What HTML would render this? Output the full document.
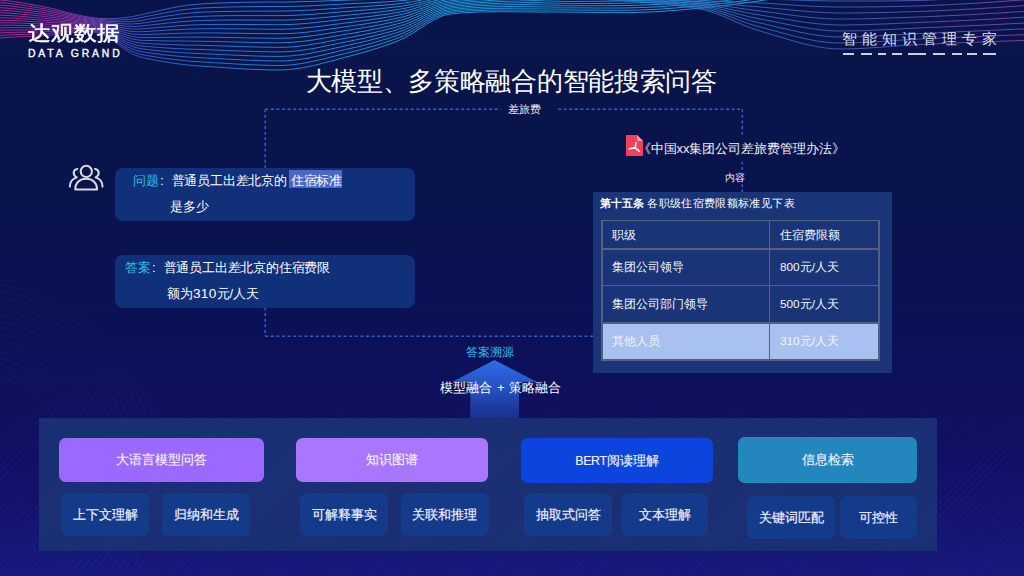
<!DOCTYPE html>
<html><head><meta charset="utf-8">
<style>
*{margin:0;padding:0;box-sizing:border-box}
html,body{width:1024px;height:576px;overflow:hidden}
body{position:relative;font-family:"Liberation Sans",sans-serif;color:#fff;
background:linear-gradient(180deg,#09154a 0%,#09134c 35%,#0c1158 60%,#110f64 80%,#16187a 100%);}
.a{position:absolute;white-space:nowrap;line-height:1}
.box{position:absolute;background:#11307a;border-radius:8px}
.btn{position:absolute;border-radius:6.5px;display:flex;align-items:center;justify-content:center;font-size:13px;color:#f2f2ff;-webkit-text-stroke:0.15px #f2f2ff}
.sub{position:absolute;border-radius:6.5px;background:#143a8a;display:flex;align-items:center;justify-content:center;font-size:13px;color:#eef;-webkit-text-stroke:0.2px #eef}
.dh{position:absolute;height:0;border-top:1.5px dashed #3567d0}
.dv{position:absolute;width:0;border-left:1.5px dashed #3567d0}
table{border-collapse:collapse}
</style></head><body>
<svg class="a" style="left:0;top:0" width="1024" height="576" viewBox="0 0 1024 576" id="bgsvg">
<defs><linearGradient id="wg" gradientUnits="userSpaceOnUse" x1="0" y1="0" x2="1024" y2="0">
<stop offset="0" stop-color="#a82a96"/><stop offset="0.07" stop-color="#8a30a4"/><stop offset="0.13" stop-color="#3c58c0"/>
<stop offset="0.22" stop-color="#2a7ad4"/><stop offset="0.4" stop-color="#1c98dc"/><stop offset="0.7" stop-color="#1e98da"/></linearGradient>
<linearGradient id="wr" gradientUnits="userSpaceOnUse" x1="600" y1="0" x2="1024" y2="0">
<stop offset="0" stop-color="#2084c8"/><stop offset="0.5" stop-color="#3a68c0"/><stop offset="1" stop-color="#8a46b2"/></linearGradient></defs>
<g fill="none" stroke="url(#wg)" stroke-width="1" opacity="0.95">
<path d="M-20 -2.0 -12 -1.2 -4 -0.4 4 0.4 12 1.4 20 2.6 28 3.9 36 5.3 44 6.8 52 8.5 60 10.5 68 12.6 76 14.5 84 16.3 92 17.6 100 18.5 108 18.7 116 18.5 124 17.8 132 16.6 140 15.0 148 13.2 156 11.4 164 9.6 172 7.9 180 6.4 188 5.2 196 4.3 204 3.8 212 3.3 220 3.0 228 2.7 236 2.5 244 2.3 252 2.2 260 2.1 268 2.0 276 2.0 284 2.0 292 1.9 300 1.7 308 1.5 316 1.3 324 1.0 332 0.7 340 0.4 348 0.1 356 -0.2 364 -0.4 372 -0.7 380 -1.0 388 -1.3 396 -1.8 404 -2.3 412 -3.1 420 -4.1 428 -5.1 436 -6.2 444 -7.3 452 -8.2 460 -9.1 468 -10.0 476 -10.9 484 -11.7 492 -12.6 500 -13.4 508 -14.3 516 -15.1 524 -15.8 532 -16.5 540 -17.2 548 -17.8 556 -18.4 564 -19.0 572 -19.6 580 -20.1 588 -20.6 596 -21.1 604 -21.6 612 -22.1 620 -22.5 628 -22.9 636 -23.3 644 -23.7 652 -24.1 660 -24.5 668 -25.1 676 -25.7 684 -26.4 692 -27.1 700 -27.9 708 -28.7 716 -29.6 724 -30.4 732 -31.4 740 -32.4 748 -33.5 756 -34.6 764 -35.9 772 -37.1 780 -38.5 788 -39.8 796 -41.3 804 -42.7 812 -44.3"/>
<path d="M-20 0.8 -12 1.5 -4 2.2 4 2.9 12 3.8 20 4.9 28 6.1 36 7.4 44 8.7 52 10.3 60 12.1 68 13.9 76 15.7 84 17.3 92 18.6 100 19.4 108 20.0 116 20.1 124 19.8 132 19.1 140 17.8 148 16.2 156 14.6 164 13.1 172 11.6 180 10.3 188 9.2 196 8.4 204 7.9 212 7.6 220 7.3 228 7.0 236 6.9 244 6.7 252 6.6 260 6.6 268 6.5 276 6.5 284 6.5 292 6.4 300 6.2 308 5.9 316 5.5 324 5.1 332 4.7 340 4.2 348 3.8 356 3.4 364 3.1 372 2.7 380 2.2 388 1.7 396 1.1 404 0.4 412 -0.6 420 -1.9 428 -3.2 436 -4.6 444 -5.8 452 -6.8 460 -7.6 468 -8.5 476 -9.3 484 -10.2 492 -11.0 500 -11.8 508 -12.5 516 -13.3 524 -14.0 532 -14.6 540 -15.3 548 -15.9 556 -16.4 564 -16.9 572 -17.5 580 -17.9 588 -18.4 596 -18.9 604 -19.3 612 -19.7 620 -20.2 628 -20.6 636 -20.9 644 -21.3 652 -21.7 660 -22.1 668 -22.7 676 -23.3 684 -24.0 692 -24.7 700 -25.5 708 -26.3 716 -27.2 724 -28.0 732 -29.0 740 -30.0 748 -31.1 756 -32.2 764 -33.5 772 -34.7 780 -36.1 788 -37.4 796 -38.9 804 -40.3 812 -41.9"/>
<path d="M-20 3.6 -12 4.2 -4 4.8 4 5.4 12 6.2 20 7.2 28 8.3 36 9.4 44 10.6 52 12.0 60 13.6 68 15.2 76 16.8 84 18.3 92 19.5 100 20.4 108 21.2 116 21.7 124 21.9 132 21.5 140 20.6 148 19.3 156 17.9 164 16.5 172 15.3 180 14.1 188 13.2 196 12.5 204 12.1 212 11.8 220 11.6 228 11.4 236 11.3 244 11.2 252 11.1 260 11.1 268 11.1 276 11.1 284 11.0 292 10.9 300 10.6 308 10.2 316 9.8 324 9.2 332 8.7 340 8.1 348 7.6 356 7.1 364 6.6 372 6.0 380 5.5 388 4.8 396 4.0 404 3.1 412 1.8 420 0.3 428 -1.3 436 -2.9 444 -4.3 452 -5.3 460 -6.1 468 -7.0 476 -7.8 484 -8.6 492 -9.3 500 -10.1 508 -10.8 516 -11.5 524 -12.1 532 -12.7 540 -13.3 548 -13.9 556 -14.4 564 -14.9 572 -15.3 580 -15.8 588 -16.2 596 -16.6 604 -17.0 612 -17.4 620 -17.8 628 -18.2 636 -18.6 644 -18.9 652 -19.3 660 -19.7 668 -20.3 676 -20.9 684 -21.6 692 -22.3 700 -23.1 708 -23.9 716 -24.8 724 -25.6 732 -26.6 740 -27.6 748 -28.7 756 -29.8 764 -31.1 772 -32.3 780 -33.7 788 -35.0 796 -36.5 804 -37.9 812 -39.5"/>
<path d="M-20 6.4 -12 6.9 -4 7.4 4 7.9 12 8.6 20 9.5 28 10.4 36 11.5 44 12.5 52 13.8 60 15.2 68 16.6 76 18.0 84 19.3 92 20.4 100 21.4 108 22.4 116 23.3 124 23.9 132 24.0 140 23.4 148 22.3 156 21.2 164 20.0 172 18.9 180 18.0 188 17.2 196 16.6 204 16.3 212 16.0 220 15.8 228 15.7 236 15.6 244 15.6 252 15.6 260 15.6 268 15.6 276 15.6 284 15.6 292 15.4 300 15.0 308 14.6 316 14.0 324 13.4 332 12.7 340 12.0 348 11.4 356 10.7 364 10.1 372 9.4 380 8.7 388 7.8 396 6.9 404 5.8 412 4.3 420 2.5 428 0.5 436 -1.3 444 -2.8 452 -3.8 460 -4.7 468 -5.5 476 -6.3 484 -7.0 492 -7.7 500 -8.4 508 -9.1 516 -9.7 524 -10.3 532 -10.8 540 -11.4 548 -11.9 556 -12.4 564 -12.8 572 -13.2 580 -13.6 588 -14.0 596 -14.4 604 -14.8 612 -15.1 620 -15.5 628 -15.8 636 -16.2 644 -16.5 652 -16.9 660 -17.3 668 -17.9 676 -18.5 684 -19.2 692 -19.9 700 -20.7 708 -21.5 716 -22.4 724 -23.2 732 -24.2 740 -25.2 748 -26.3 756 -27.4 764 -28.7 772 -29.9 780 -31.3 788 -32.6 796 -34.1 804 -35.5 812 -37.1"/>
<path d="M-20 9.2 -12 9.6 -4 9.9 4 10.4 12 11.0 20 11.7 28 12.6 36 13.5 44 14.5 52 15.5 60 16.7 68 17.9 76 19.2 84 20.3 92 21.4 100 22.4 108 23.7 116 25.0 124 26.0 132 26.5 140 26.2 148 25.3 156 24.4 164 23.5 172 22.6 180 21.8 188 21.2 196 20.7 204 20.4 212 20.3 220 20.1 228 20.1 236 20.0 244 20.0 252 20.1 260 20.1 268 20.1 276 20.1 284 20.1 292 19.9 300 19.5 308 18.9 316 18.2 324 17.5 332 16.7 340 15.9 348 15.1 356 14.4 364 13.6 372 12.8 380 11.9 388 10.9 396 9.8 404 8.5 412 6.7 420 4.6 428 2.4 436 0.4 444 -1.3 452 -2.4 460 -3.2 468 -4.0 476 -4.7 484 -5.4 492 -6.1 500 -6.7 508 -7.3 516 -7.9 524 -8.4 532 -8.9 540 -9.4 548 -9.9 556 -10.3 564 -10.7 572 -11.1 580 -11.5 588 -11.8 596 -12.2 604 -12.5 612 -12.8 620 -13.1 628 -13.5 636 -13.8 644 -14.1 652 -14.5 660 -14.9 668 -15.5 676 -16.1 684 -16.8 692 -17.5 700 -18.3 708 -19.1 716 -20.0 724 -20.8 732 -21.8 740 -22.8 748 -23.9 756 -25.0 764 -26.3 772 -27.5 780 -28.9 788 -30.2 796 -31.7 804 -33.1 812 -34.7"/>
<path d="M-20 12.0 -12 12.3 -4 12.5 4 12.8 12 13.3 20 14.0 28 14.8 36 15.6 44 16.4 52 17.3 60 18.3 68 19.3 76 20.3 84 21.3 92 22.3 100 23.4 108 24.9 116 26.6 124 28.1 132 29.0 140 29.0 148 28.4 156 27.7 164 27.0 172 26.3 180 25.7 188 25.1 196 24.8 204 24.6 212 24.5 220 24.4 228 24.4 236 24.4 244 24.5 252 24.5 260 24.6 268 24.6 276 24.7 284 24.6 292 24.4 300 23.9 308 23.3 316 22.5 324 21.6 332 20.7 340 19.8 348 18.9 356 18.0 364 17.1 372 16.2 380 15.1 388 14.0 396 12.7 404 11.2 412 9.2 420 6.8 428 4.3 436 2.1 444 0.2 452 -0.9 460 -1.7 468 -2.5 476 -3.2 484 -3.9 492 -4.5 500 -5.1 508 -5.6 516 -6.1 524 -6.6 532 -7.0 540 -7.5 548 -7.9 556 -8.3 564 -8.7 572 -9.0 580 -9.3 588 -9.6 596 -9.9 604 -10.2 612 -10.5 620 -10.8 628 -11.1 636 -11.4 644 -11.7 652 -12.1 660 -12.5 668 -13.1 676 -13.7 684 -14.4 692 -15.1 700 -15.9 708 -16.7 716 -17.6 724 -18.4 732 -19.4 740 -20.4 748 -21.5 756 -22.6 764 -23.9 772 -25.1 780 -26.5 788 -27.8 796 -29.3 804 -30.7 812 -32.3"/>
<path d="M-20 14.8 -12 15.0 -4 15.1 4 15.3 12 15.7 20 16.3 28 17.0 36 17.7 44 18.3 52 19.1 60 19.8 68 20.6 76 21.5 84 22.4 92 23.3 100 24.4 108 26.1 116 28.2 124 30.1 132 31.5 140 31.8 148 31.4 156 30.9 164 30.4 172 29.9 180 29.5 188 29.1 196 28.9 204 28.8 212 28.7 220 28.7 228 28.8 236 28.8 244 28.9 252 29.0 260 29.1 268 29.2 276 29.2 284 29.2 292 28.9 300 28.3 308 27.6 316 26.7 324 25.8 332 24.7 340 23.7 348 22.6 356 21.7 364 20.6 372 19.5 380 18.3 388 17.0 396 15.6 404 13.9 412 11.6 420 9.0 428 6.2 436 3.7 444 1.7 452 0.6 460 -0.2 468 -1.0 476 -1.7 484 -2.3 492 -2.9 500 -3.4 508 -3.9 516 -4.3 524 -4.7 532 -5.1 540 -5.5 548 -5.9 556 -6.3 564 -6.6 572 -6.9 580 -7.2 588 -7.4 596 -7.7 604 -7.9 612 -8.2 620 -8.4 628 -8.7 636 -9.0 644 -9.3 652 -9.7 660 -10.1 668 -10.7 676 -11.3 684 -12.0 692 -12.7 700 -13.5 708 -14.3 716 -15.2 724 -16.0 732 -17.0 740 -18.0 748 -19.1 756 -20.2 764 -21.5 772 -22.7 780 -24.1 788 -25.4 796 -26.9 804 -28.3 812 -29.9"/>
<path d="M-20 17.6 -12 17.7 -4 17.7 4 17.8 12 18.1 20 18.6 28 19.1 36 19.7 44 20.3 52 20.8 60 21.4 68 22.0 76 22.6 84 23.4 92 24.2 100 25.3 108 27.4 116 29.8 124 32.2 132 34.0 140 34.6 148 34.4 156 34.2 164 33.9 172 33.6 180 33.3 188 33.1 196 33.0 204 32.9 212 32.9 220 33.0 228 33.1 236 33.2 244 33.4 252 33.5 260 33.6 268 33.7 276 33.7 284 33.7 292 33.4 300 32.8 308 32.0 316 31.0 324 29.9 332 28.7 340 27.5 348 26.4 356 25.3 364 24.1 372 22.9 380 21.5 388 20.1 396 18.5 404 16.6 412 14.1 420 11.1 428 8.1 436 5.4 444 3.2 452 2.1 460 1.2 468 0.5 476 -0.1 484 -0.7 492 -1.2 500 -1.7 508 -2.1 516 -2.5 524 -2.9 532 -3.2 540 -3.6 548 -3.9 556 -4.2 564 -4.5 572 -4.8 580 -5.0 588 -5.2 596 -5.5 604 -5.7 612 -5.9 620 -6.1 628 -6.4 636 -6.6 644 -6.9 652 -7.3 660 -7.7 668 -8.3 676 -8.9 684 -9.6 692 -10.3 700 -11.1 708 -11.9 716 -12.8 724 -13.6 732 -14.6 740 -15.6 748 -16.7 756 -17.8 764 -19.1 772 -20.3 780 -21.7 788 -23.0 796 -24.5 804 -25.9 812 -27.5"/>
<path d="M-20 20.4 -12 20.3 -4 20.3 4 20.3 12 20.5 20 20.8 28 21.3 36 21.8 44 22.2 52 22.6 60 22.9 68 23.3 76 23.8 84 24.4 92 25.1 100 26.3 108 28.6 116 31.4 124 34.3 132 36.5 140 37.4 148 37.5 156 37.5 164 37.4 172 37.3 180 37.2 188 37.1 196 37.1 204 37.1 212 37.2 220 37.3 228 37.5 236 37.6 244 37.8 252 38.0 260 38.1 268 38.2 276 38.3 284 38.2 292 37.9 300 37.2 308 36.3 316 35.2 324 34.0 332 32.7 340 31.4 348 30.2 356 29.0 364 27.7 372 26.3 380 24.8 388 23.1 396 21.3 404 19.3 412 16.5 420 13.3 428 10.0 436 7.0 444 4.8 452 3.5 460 2.7 468 2.0 476 1.4 484 0.9 492 0.4 500 -0.0 508 -0.4 516 -0.7 524 -1.0 532 -1.3 540 -1.6 548 -1.9 556 -2.2 564 -2.5 572 -2.7 580 -2.9 588 -3.0 596 -3.2 604 -3.4 612 -3.6 620 -3.8 628 -4.0 636 -4.2 644 -4.5 652 -4.9 660 -5.3 668 -5.9 676 -6.5 684 -7.2 692 -7.9 700 -8.7 708 -9.5 716 -10.4 724 -11.2 732 -12.2 740 -13.2 748 -14.3 756 -15.4 764 -16.7 772 -17.9 780 -19.3 788 -20.6 796 -22.1 804 -23.5 812 -25.1"/>
<path d="M-20 23.2 -12 23.0 -4 22.9 4 22.8 12 22.9 20 23.1 28 23.5 36 23.8 44 24.1 52 24.3 60 24.5 68 24.7 76 25.0 84 25.4 92 26.1 100 27.3 108 29.8 116 33.1 124 36.3 132 38.9 140 40.2 148 40.5 156 40.7 164 40.9 172 41.0 180 41.0 188 41.1 196 41.2 204 41.3 212 41.4 220 41.6 228 41.8 236 42.0 244 42.2 252 42.4 260 42.6 268 42.7 276 42.8 284 42.7 292 42.4 300 41.6 308 40.7 316 39.5 324 38.1 332 36.7 340 35.3 348 33.9 356 32.6 364 31.2 372 29.6 380 28.0 388 26.2 396 24.2 404 22.0 412 19.0 420 15.5 428 11.9 436 8.7 444 6.3 452 5.0 460 4.2 468 3.5 476 2.9 484 2.4 492 2.0 500 1.6 508 1.3 516 1.1 524 0.8 532 0.6 540 0.3 548 0.1 556 -0.2 564 -0.4 572 -0.6 580 -0.7 588 -0.9 596 -1.0 604 -1.1 612 -1.3 620 -1.4 628 -1.6 636 -1.9 644 -2.1 652 -2.5 660 -2.9 668 -3.5 676 -4.1 684 -4.8 692 -5.5 700 -6.3 708 -7.1 716 -8.0 724 -8.8 732 -9.8 740 -10.8 748 -11.9 756 -13.0 764 -14.3 772 -15.5 780 -16.9 788 -18.2 796 -19.7 804 -21.1 812 -22.7"/>
<path d="M-20 26.0 -12 25.7 -4 25.5 4 25.2 12 25.2 20 25.4 28 25.7 36 25.9 44 26.1 52 26.1 60 26.0 68 26.0 76 26.1 84 26.4 92 27.0 100 28.3 108 31.1 116 34.7 124 38.4 132 41.4 140 43.0 148 43.5 156 44.0 164 44.3 172 44.6 180 44.9 188 45.1 196 45.2 204 45.4 212 45.6 220 45.9 228 46.1 236 46.4 244 46.7 252 46.9 260 47.1 268 47.2 276 47.3 284 47.3 292 46.9 300 46.1 308 45.0 316 43.7 324 42.3 332 40.7 340 39.2 348 37.7 356 36.2 364 34.7 372 33.0 380 31.2 388 29.2 396 27.1 404 24.7 412 21.5 420 17.7 428 13.8 436 10.4 444 7.8 452 6.5 460 5.7 468 5.0 476 4.5 484 4.0 492 3.6 500 3.3 508 3.1 516 2.8 524 2.6 532 2.5 540 2.3 548 2.1 556 1.8 564 1.7 572 1.5 580 1.4 588 1.3 596 1.3 604 1.2 612 1.1 620 0.9 628 0.8 636 0.5 644 0.3 652 -0.1 660 -0.5 668 -1.1 676 -1.7 684 -2.4 692 -3.1 700 -3.9 708 -4.7 716 -5.6 724 -6.4 732 -7.4 740 -8.4 748 -9.5 756 -10.6 764 -11.9 772 -13.1 780 -14.5 788 -15.8 796 -17.3 804 -18.7 812 -20.3"/>
<path d="M-20 28.8 -12 28.4 -4 28.1 4 27.7 12 27.6 20 27.7 28 27.8 36 28.0 44 28.0 52 27.8 60 27.6 68 27.4 76 27.3 84 27.4 92 28.0 100 29.3 108 32.3 116 36.3 124 40.5 132 43.9 140 45.8 148 46.6 156 47.2 164 47.8 172 48.3 180 48.7 188 49.1 196 49.3 204 49.6 212 49.9 220 50.2 228 50.5 236 50.8 244 51.1 252 51.4 260 51.6 268 51.8 276 51.9 284 51.8 292 51.4 300 50.5 308 49.4 316 48.0 324 46.4 332 44.7 340 43.1 348 41.5 356 39.9 364 38.2 372 36.4 380 34.4 388 32.3 396 30.0 404 27.4 412 23.9 420 19.8 428 15.7 436 12.0 444 9.3 452 7.9 460 7.2 468 6.5 476 6.0 484 5.6 492 5.3 500 5.0 508 4.8 516 4.6 524 4.5 532 4.4 540 4.2 548 4.0 556 3.9 564 3.7 572 3.7 580 3.6 588 3.5 596 3.5 604 3.4 612 3.4 620 3.3 628 3.1 636 2.9 644 2.7 652 2.3 660 1.9 668 1.3 676 0.7 684 0.0 692 -0.7 700 -1.5 708 -2.3 716 -3.2 724 -4.0 732 -5.0 740 -6.0 748 -7.1 756 -8.2 764 -9.5 772 -10.7 780 -12.1 788 -13.4 796 -14.9 804 -16.3 812 -17.9"/>
<path d="M-20 31.6 -12 31.1 -4 30.6 4 30.2 12 30.0 20 30.0 28 30.0 36 30.0 44 29.9 52 29.6 60 29.1 68 28.7 76 28.4 84 28.5 92 28.9 100 30.3 108 33.5 116 37.9 124 42.5 132 46.4 140 48.6 148 49.6 156 50.5 164 51.3 172 52.0 180 52.6 188 53.0 196 53.4 204 53.8 212 54.1 220 54.5 228 54.8 236 55.2 244 55.5 252 55.9 260 56.1 268 56.3 276 56.4 284 56.3 292 55.8 300 54.9 308 53.7 316 52.2 324 50.5 332 48.8 340 47.0 348 45.2 356 43.5 364 41.7 372 39.7 380 37.6 388 35.3 396 32.9 404 30.1 412 26.4 420 22.0 428 17.6 436 13.7 444 10.8 452 9.4 460 8.6 468 8.0 476 7.5 484 7.2 492 6.9 500 6.7 508 6.5 516 6.4 524 6.3 532 6.3 540 6.2 548 6.0 556 5.9 564 5.8 572 5.8 580 5.7 588 5.7 596 5.7 604 5.7 612 5.7 620 5.6 628 5.5 636 5.3 644 5.0 652 4.7 660 4.3 668 3.7 676 3.1 684 2.4 692 1.7 700 0.9 708 0.1 716 -0.8 724 -1.6 732 -2.6 740 -3.6 748 -4.7 756 -5.8 764 -7.1 772 -8.3 780 -9.7 788 -11.0 796 -12.5 804 -13.9 812 -15.5"/>
<path d="M-20 34.4 -12 33.8 -4 33.2 4 32.7 12 32.4 20 32.2 28 32.2 36 32.1 44 31.8 52 31.3 60 30.7 68 30.1 76 29.6 84 29.5 92 29.8 100 31.2 108 34.8 116 39.5 124 44.6 132 48.9 140 51.4 148 52.6 156 53.8 164 54.8 172 55.6 180 56.4 188 57.0 196 57.5 204 57.9 212 58.3 220 58.8 228 59.2 236 59.6 244 60.0 252 60.3 260 60.6 268 60.8 276 60.9 284 60.9 292 60.3 300 59.4 308 58.1 316 56.5 324 54.7 332 52.8 340 50.8 348 49.0 356 47.2 364 45.2 372 43.1 380 40.8 388 38.4 396 35.8 404 32.8 412 28.8 420 24.2 428 19.5 436 15.3 444 12.3 452 10.9 460 10.1 468 9.5 476 9.1 484 8.7 492 8.5 500 8.4 508 8.3 516 8.2 524 8.2 532 8.2 540 8.1 548 8.0 556 7.9 564 7.9 572 7.9 580 7.9 588 7.9 596 8.0 604 8.0 612 8.0 620 8.0 628 7.9 636 7.7 644 7.4 652 7.1 660 6.7 668 6.1 676 5.5 684 4.8 692 4.1 700 3.3 708 2.5 716 1.6 724 0.8 732 -0.2 740 -1.2 748 -2.3 756 -3.4 764 -4.7 772 -5.9 780 -7.3 788 -8.6 796 -10.1 804 -11.5 812 -13.1"/>
<path d="M-20 37.2 -12 36.5 -4 35.8 4 35.2 12 34.7 20 34.5 28 34.4 36 34.1 44 33.8 52 33.1 60 32.2 68 31.4 76 30.8 84 30.5 92 30.8 100 32.2 108 36.0 116 41.2 124 46.7 132 51.4 140 54.2 148 55.7 156 57.0 164 58.2 172 59.3 180 60.2 188 61.0 196 61.6 204 62.1 212 62.6 220 63.0 228 63.5 236 64.0 244 64.4 252 64.8 260 65.1 268 65.3 276 65.5 284 65.4 292 64.8 300 63.8 308 62.4 316 60.7 324 58.8 332 56.8 340 54.7 348 52.7 356 50.8 364 48.7 372 46.5 380 44.1 388 41.5 396 38.7 404 35.5 412 31.3 420 26.4 428 21.4 436 17.0 444 13.8 452 12.3 460 11.6 468 11.0 476 10.6 484 10.3 492 10.1 500 10.0 508 10.0 516 10.0 524 10.0 532 10.1 540 10.1 548 10.0 556 10.0 564 9.9 572 10.0 580 10.1 588 10.1 596 10.2 604 10.3 612 10.3 620 10.3 628 10.2 636 10.1 644 9.8 652 9.5 660 9.1 668 8.5 676 7.9 684 7.2 692 6.5 700 5.7 708 4.9 716 4.0 724 3.2 732 2.2 740 1.2 748 0.1 756 -1.0 764 -2.3 772 -3.5 780 -4.9 788 -6.2 796 -7.7 804 -9.1 812 -10.7"/>
<path d="M-20 40.0 -12 39.2 -4 38.4 4 37.6 12 37.1 20 36.8 28 36.5 36 36.2 44 35.7 52 34.8 60 33.8 68 32.8 76 31.9 84 31.5 92 31.7 100 33.2 108 37.2 116 42.8 124 48.7 132 53.9 140 57.0 148 58.7 156 60.3 164 61.7 172 63.0 180 64.1 188 65.0 196 65.7 204 66.3 212 66.8 220 67.3 228 67.9 236 68.4 244 68.9 252 69.3 260 69.6 268 69.9 276 70.0 284 69.9 292 69.3 300 68.2 308 66.7 316 64.9 324 62.9 332 60.8 340 58.6 348 56.5 356 54.5 364 52.2 372 49.9 380 47.3 388 44.5 396 41.6 404 38.2 412 33.7 420 28.5 428 23.3 436 18.7 444 15.3 452 13.8 460 13.1 468 12.5 476 12.1 484 11.9 492 11.8 500 11.7 508 11.7 516 11.8 524 11.9 532 11.9 540 12.0 548 12.0 556 12.0 564 12.0 572 12.1 580 12.2 588 12.3 596 12.4 604 12.5 612 12.6 620 12.6 628 12.6 636 12.5 644 12.2 652 11.9 660 11.5 668 10.9 676 10.3 684 9.6 692 8.9 700 8.1 708 7.3 716 6.4 724 5.6 732 4.6 740 3.6 748 2.5 756 1.4 764 0.1 772 -1.1 780 -2.5 788 -3.8 796 -5.3 804 -6.7 812 -8.3"/>
</g>
<g fill="none" stroke="url(#wr)" stroke-width="1" opacity="0.85">
<path d="M560 -9.0 568 -8.6 576 -8.1 584 -7.7 592 -7.2 600 -6.7 608 -6.2 616 -5.7 624 -5.1 632 -4.6 640 -4.0 648 -3.5 656 -3.0 664 -2.7 672 -2.3 680 -2.0 688 -1.6 696 -1.2 704 -0.8 712 -0.6 720 -0.6 728 -0.7 736 -0.8 744 -1.0 752 -1.1 760 -1.0 768 -0.8 776 -0.6 784 -0.3 792 -0.1 800 0.2 808 0.4 816 0.7 824 0.8 832 1.0 840 1.0 848 1.0 856 1.0 864 1.0 872 1.0 880 1.0 888 0.9 896 0.9 904 0.7 912 0.6 920 0.4 928 0.1 936 -0.3 944 -0.6 952 -1.0 960 -1.4 968 -1.9 976 -2.4 984 -2.9 992 -3.5 1000 -4.1 1008 -4.7 1016 -5.4 1024 -6.1 1032 -6.8 1040 -7.6"/>
<path d="M560 -8.2 568 -7.8 576 -7.4 584 -6.9 592 -6.5 600 -6.0 608 -5.4 616 -4.9 624 -4.4 632 -3.8 640 -3.2 648 -2.7 656 -2.2 664 -1.8 672 -1.4 680 -1.0 688 -0.5 696 -0.0 704 0.5 712 1.0 720 1.4 728 1.7 736 2.0 744 2.3 752 2.6 760 3.0 768 3.4 776 3.9 784 4.5 792 5.0 800 5.5 808 6.0 816 6.4 824 6.7 832 6.9 840 7.0 848 7.0 856 7.0 864 6.9 872 6.9 880 6.8 888 6.7 896 6.5 904 6.3 912 6.1 920 5.9 928 5.6 936 5.2 944 4.9 952 4.5 960 4.1 968 3.7 976 3.2 984 2.7 992 2.2 1000 1.6 1008 1.0 1016 0.4 1024 -0.2 1032 -0.9 1040 -1.6"/>
<path d="M560 -7.5 568 -7.1 576 -6.6 584 -6.2 592 -5.7 600 -5.2 608 -4.7 616 -4.2 624 -3.6 632 -3.1 640 -2.5 648 -2.0 656 -1.4 664 -1.0 672 -0.5 680 0.0 688 0.6 696 1.2 704 1.9 712 2.6 720 3.3 728 4.1 736 4.8 744 5.6 752 6.3 760 7.0 768 7.7 776 8.5 784 9.3 792 10.1 800 10.8 808 11.5 816 12.1 824 12.6 832 12.9 840 13.0 848 13.0 856 12.9 864 12.8 872 12.7 880 12.6 888 12.4 896 12.2 904 11.9 912 11.7 920 11.4 928 11.1 936 10.8 944 10.4 952 10.0 960 9.6 968 9.2 976 8.8 984 8.3 992 7.8 1000 7.3 1008 6.7 1016 6.2 1024 5.6 1032 5.0 1040 4.3"/>
<path d="M560 -6.8 568 -6.3 576 -5.9 584 -5.4 592 -5.0 600 -4.5 608 -3.9 616 -3.4 624 -2.9 632 -2.3 640 -1.8 648 -1.2 656 -0.7 664 -0.1 672 0.4 680 1.0 688 1.6 696 2.4 704 3.2 712 4.2 720 5.3 728 6.4 736 7.7 744 8.9 752 10.0 760 11.0 768 12.0 776 13.0 784 14.1 792 15.2 800 16.2 808 17.1 816 17.9 824 18.5 832 18.9 840 19.0 848 19.0 856 18.9 864 18.8 872 18.6 880 18.4 888 18.1 896 17.8 904 17.5 912 17.2 920 16.9 928 16.6 936 16.3 944 15.9 952 15.5 960 15.2 968 14.8 976 14.3 984 13.9 992 13.4 1000 13.0 1008 12.5 1016 11.9 1024 11.4 1032 10.9 1040 10.3"/>
<path d="M560 -6.0 568 -5.6 576 -5.1 584 -4.7 592 -4.2 600 -3.7 608 -3.2 616 -2.7 624 -2.1 632 -1.6 640 -1.0 648 -0.4 656 0.1 664 0.7 672 1.3 680 2.0 688 2.7 696 3.6 704 4.5 712 5.7 720 7.2 728 8.8 736 10.5 744 12.1 752 13.7 760 15.0 768 16.3 776 17.6 784 18.9 792 20.2 800 21.5 808 22.6 816 23.6 824 24.3 832 24.8 840 25.0 848 25.0 856 24.8 864 24.7 872 24.4 880 24.1 888 23.8 896 23.5 904 23.1 912 22.8 920 22.4 928 22.1 936 21.8 944 21.4 952 21.1 960 20.7 968 20.3 976 19.9 984 19.5 992 19.1 1000 18.6 1008 18.2 1016 17.7 1024 17.2 1032 16.7 1040 16.3"/>
<path d="M560 -5.2 568 -4.8 576 -4.4 584 -3.9 592 -3.5 600 -3.0 608 -2.4 616 -1.9 624 -1.4 632 -0.8 640 -0.2 648 0.3 656 0.9 664 1.6 672 2.3 680 3.0 688 3.8 696 4.7 704 5.8 712 7.3 720 9.1 728 11.2 736 13.3 744 15.4 752 17.4 760 19.0 768 20.5 776 22.1 784 23.7 792 25.3 800 26.8 808 28.2 816 29.3 824 30.2 832 30.8 840 31.0 848 30.9 856 30.8 864 30.6 872 30.3 880 29.9 888 29.6 896 29.2 904 28.7 912 28.3 920 27.9 928 27.6 936 27.3 944 26.9 952 26.6 960 26.2 968 25.8 976 25.5 984 25.1 992 24.7 1000 24.3 1008 23.9 1016 23.5 1024 23.1 1032 22.6 1040 22.2"/>
<path d="M560 -4.5 568 -4.1 576 -3.6 584 -3.2 592 -2.7 600 -2.2 608 -1.7 616 -1.2 624 -0.6 632 -0.1 640 0.5 648 1.1 656 1.7 664 2.4 672 3.2 680 4.0 688 4.9 696 5.9 704 7.2 712 8.9 720 11.1 728 13.6 736 16.2 744 18.7 752 21.0 760 23.0 768 24.8 776 26.7 784 28.6 792 30.4 800 32.2 808 33.7 816 35.1 824 36.1 832 36.8 840 37.0 848 36.9 856 36.8 864 36.5 872 36.1 880 35.7 888 35.3 896 34.8 904 34.3 912 33.9 920 33.5 928 33.1 936 32.8 944 32.4 952 32.1 960 31.7 968 31.4 976 31.0 984 30.7 992 30.3 1000 30.0 1008 29.6 1016 29.2 1024 28.9 1032 28.5 1040 28.2"/>
<path d="M560 -3.8 568 -3.3 576 -2.9 584 -2.4 592 -2.0 600 -1.5 608 -0.9 616 -0.4 624 0.1 632 0.7 640 1.2 648 1.9 656 2.5 664 3.3 672 4.1 680 5.0 688 6.0 696 7.1 704 8.5 712 10.5 720 13.0 728 15.9 736 19.0 744 22.0 752 24.7 760 27.0 768 29.1 776 31.2 784 33.4 792 35.5 800 37.5 808 39.3 816 40.8 824 42.0 832 42.7 840 43.0 848 42.9 856 42.7 864 42.4 872 42.0 880 41.5 888 41.0 896 40.5 904 39.9 912 39.4 920 39.0 928 38.6 936 38.3 944 37.9 952 37.6 960 37.3 968 36.9 976 36.6 984 36.3 992 35.9 1000 35.6 1008 35.3 1016 35.0 1024 34.7 1032 34.4 1040 34.1"/>
<path d="M560 -3.0 568 -2.6 576 -2.1 584 -1.7 592 -1.2 600 -0.7 608 -0.2 616 0.3 624 0.9 632 1.4 640 2.0 648 2.6 656 3.3 664 4.1 672 5.0 680 6.0 688 7.1 696 8.3 704 9.8 712 12.1 720 15.0 728 18.3 736 21.8 744 25.3 752 28.4 760 31.0 768 33.3 776 35.8 784 38.2 792 40.6 800 42.8 808 44.8 816 46.5 824 47.8 832 48.7 840 49.0 848 48.9 856 48.7 864 48.3 872 47.8 880 47.3 888 46.7 896 46.1 904 45.5 912 45.0 920 44.5 928 44.1 936 43.8 944 43.4 952 43.1 960 42.8 968 42.5 976 42.2 984 41.9 992 41.6 1000 41.3 1008 41.0 1016 40.8 1024 40.5 1032 40.3 1040 40.1"/>
</g>
</svg>

<svg class="a" style="left:0;top:0" width="1024" height="576" viewBox="0 0 1024 576">
<g fill="none" stroke="#3a5ac0" stroke-width="0.8" opacity="0.13"><circle cx="-32" cy="477" r="105"/><circle cx="-32" cy="477" r="111"/><circle cx="-32" cy="477" r="117"/><circle cx="-32" cy="477" r="123"/><circle cx="-32" cy="477" r="129"/><circle cx="-32" cy="477" r="135"/><circle cx="-32" cy="477" r="141"/><circle cx="-32" cy="477" r="147"/><circle cx="-32" cy="477" r="153"/><circle cx="-32" cy="477" r="159"/><circle cx="-32" cy="477" r="165"/><circle cx="-32" cy="477" r="171"/><circle cx="-32" cy="477" r="177"/><circle cx="-32" cy="477" r="183"/><circle cx="-32" cy="477" r="189"/><circle cx="-32" cy="477" r="195"/></g>
</svg>
<!-- logo -->
<div class="a" style="left:27.6px;top:24.2px;font-size:19.6px;letter-spacing:0.5px;transform:scaleX(1.13);transform-origin:0 0;-webkit-text-stroke:0.5px #fff">达观数据</div>
<div class="a" style="left:28px;top:49.2px;font-size:10.4px;letter-spacing:2.85px;-webkit-text-stroke:0.35px #fff">DATA GRAND</div>

<!-- right slogan -->
<div class="a" style="left:842px;top:32px;font-size:14.5px;letter-spacing:4.95px;color:#dcdce6">智能知识管理专家</div>
<div class="a" style="left:842.8px;top:52.9px;width:11.2px;height:1.7px;background:#cfd0dc"></div><div class="a" style="left:861.2px;top:52.9px;width:10.5px;height:1.7px;background:#cfd0dc"></div><div class="a" style="left:877.7px;top:52.9px;width:7.9px;height:1.7px;background:#cfd0dc"></div><div class="a" style="left:892.2px;top:52.9px;width:9.9px;height:1.7px;background:#cfd0dc"></div><div class="a" style="left:907.7px;top:52.9px;width:18.4px;height:1.7px;background:#cfd0dc"></div><div class="a" style="left:932.5px;top:52.9px;width:12.1px;height:1.7px;background:#cfd0dc"></div><div class="a" style="left:951.5px;top:52.9px;width:10.2px;height:1.7px;background:#cfd0dc"></div><div class="a" style="left:967px;top:52.9px;width:10.4px;height:1.7px;background:#cfd0dc"></div><div class="a" style="left:983px;top:52.9px;width:13.3px;height:1.7px;background:#cfd0dc"></div>

<!-- title -->
<div class="a" style="left:305.6px;top:69.2px;font-size:25.7px;letter-spacing:-0.3px">大模型、多策略融合的智能搜索问答</div>

<!-- dashed lines -->
<svg class="a" style="left:0;top:0" width="1024" height="576" viewBox="0 0 1024 576">
<g stroke="#2f5ec8" stroke-width="1.5" stroke-dasharray="3 2.6" fill="none"><line x1="265.2" y1="109.3" x2="501" y2="109.3"/><line x1="558" y1="109.3" x2="742.3" y2="109.3"/><line x1="265.2" y1="109.3" x2="265.2" y2="168"/><line x1="265.2" y1="307.5" x2="265.2" y2="336.3"/><line x1="265.2" y1="336.3" x2="593" y2="336.3"/><line x1="742.3" y1="109.3" x2="742.3" y2="136"/><line x1="742.3" y1="161.5" x2="742.3" y2="193"/></g>
</svg>
<div class="a" style="left:507.5px;top:103.85px;font-size:11.2px;color:#e6e6f0">差旅费</div>
<!-- pdf doc -->
<svg class="a" style="left:626px;top:135px" width="17" height="21" viewBox="0 0 17 21">
<path d="M0 0H11L17 6V21H0Z" fill="#f0415c"/>
<path d="M11 0L17 6H11Z" fill="#f7a0ae"/>
<path d="M10 7.8Q9.8 10.6 9 12.9L3.4 13.8M9 12.9Q11.6 14.8 13.4 16.4" stroke="#fff" stroke-width="1.6" fill="none" stroke-linecap="round" stroke-linejoin="round"/>
</svg>
<div class="a" style="left:637.5px;top:143.15px;font-size:12.9px;color:#f0f0f8">《中国xx集团公司差旅费管理办法》</div>
<div class="a" style="left:725px;top:172.5px;font-size:9.5px;color:#e6e6f0">内容</div>

<!-- people icon -->
<svg class="a" style="left:64px;top:160px" width="44" height="34" viewBox="0 0 44 34">
<g fill="none" stroke="#d9d9e2" stroke-width="2.05" stroke-linecap="round" stroke-linejoin="round">
<circle cx="22.3" cy="11.4" r="5.6"/>
<path d="M11.3 29.4C11.3 22.5 16 18.7 22.15 18.7C28.3 18.7 33 22.5 33 29.4Z"/>
<path d="M13.3 8.9C9.5 9.5 7.8 14.5 12.7 17.4C8.3 18.5 5.9 22.5 5.9 26.6"/>
<path d="M31.1 8.9C34.9 9.5 36.6 14.5 31.7 17.4C36.1 18.5 38.5 22.5 38.5 26.6"/>
</g>
</svg>

<!-- question box -->
<div class="box" style="left:115px;top:168px;width:300px;height:53px"></div>
<div class="a" style="left:289px;top:170px;width:53px;height:18px;background:#4a66c6"></div>
<div class="a" style="left:133px;top:174.2px;font-size:13px;letter-spacing:-0.2px"><span style="color:#2dbfea">问题</span><span style="display:inline-block;width:13px;padding-left:1.5px">:</span>普通员工出差北京的<span style="display:inline-block;width:4px"></span>住宿标准</div>
<div class="a" style="left:170px;top:199.75px;font-size:13px">是多少</div>

<!-- answer box -->
<div class="box" style="left:115px;top:255px;width:300px;height:53px"></div>
<div class="a" style="left:125px;top:261.2px;font-size:13px;letter-spacing:-0.2px"><span style="color:#2dbfea">答案</span><span style="display:inline-block;width:13px;padding-left:1.5px">:</span>普通员工出差北京的住宿费限</div>
<div class="a" style="left:167px;top:286.5px;font-size:13px">额为<span style="font-size:13.6px;letter-spacing:0.3px">310</span>元/人天</div>

<!-- table panel -->
<div class="a" style="left:593px;top:192px;width:299px;height:181px;background:#1a3478"></div>
<div class="a" style="left:600px;top:197.3px;font-size:11.6px"><b style="font-size:11.3px">第十五条</b> <span style="font-size:11.2px;letter-spacing:0.36px">各职级住宿费限额标准见下表</span></div>
<div class="a" style="left:602px;top:322.7px;width:277px;height:37px;background:#a9c1f1"></div>
<div class="a" style="left:601px;top:219.5px;width:279px;height:1.6px;background:#56607a"></div>
<div class="a" style="left:601px;top:248.1px;width:279px;height:1.6px;background:#56607a"></div>
<div class="a" style="left:601px;top:284.8px;width:279px;height:1.6px;background:#56607a"></div>
<div class="a" style="left:601px;top:322.0px;width:279px;height:1.6px;background:#56607a"></div>
<div class="a" style="left:601px;top:359.0px;width:279px;height:1.6px;background:#56607a"></div>
<div class="a" style="left:601px;top:219.5px;width:1.6px;height:141.10000000000002px;background:#56607a"></div>
<div class="a" style="left:768.7px;top:219.5px;width:1.6px;height:141.10000000000002px;background:#56607a"></div>
<div class="a" style="left:878.2px;top:219.5px;width:1.6px;height:141.10000000000002px;background:#56607a"></div>
<div class="a" style="left:611.5px;top:229.80px;font-size:11.8px;color:#f4f4fa">职级</div>
<div class="a" style="left:780.0px;top:229.80px;font-size:11.8px;color:#f4f4fa">住宿费限额</div>
<div class="a" style="left:611.5px;top:262.45px;font-size:11.8px;color:#f4f4fa">集团公司领导</div>
<div class="a" style="left:780.0px;top:262.45px;font-size:11.8px;color:#f4f4fa">800元/人天</div>
<div class="a" style="left:611.5px;top:299.20px;font-size:11.8px;color:#f4f4fa">集团公司部门领导</div>
<div class="a" style="left:780.0px;top:299.20px;font-size:11.8px;color:#f4f4fa">500元/人天</div>
<div class="a" style="left:611.5px;top:336.30px;font-size:11.8px;color:#f4f4fa">其他人员</div>
<div class="a" style="left:780.0px;top:336.30px;font-size:11.8px;color:#f4f4fa">310元/人天</div>

<!-- arrow -->
<svg class="a" style="left:440px;top:355px" width="110" height="64" viewBox="0 0 110 64">
<defs><linearGradient id="ag" x1="0" y1="0" x2="0" y2="1">
<stop offset="0" stop-color="#2f6ce6"/><stop offset="0.5" stop-color="#2450c0"/><stop offset="1" stop-color="#1a2f8c"/></linearGradient></defs>
<path d="M54.4 5L97 27H79V63H30.3V27H12Z" fill="url(#ag)"/>
</svg>
<div class="a" style="left:466.3px;top:346.5px;font-size:11.5px;color:#2dbfea">答案溯源</div>
<div class="a" style="left:440px;top:380.8px;font-size:13px;word-spacing:1.3px">模型融合 + 策略融合</div>

<!-- bottom panel -->
<div class="a" style="left:39px;top:418px;width:898px;height:133px;background:#1a2f72"></div>
<div class="a" style="left:0;top:380px;width:1024px;height:196px;background:repeating-linear-gradient(135deg,rgba(90,130,230,0.05) 0 1px,transparent 1px 5px);-webkit-mask-image:linear-gradient(180deg,transparent 0,#000 40%)"></div>

<div class="btn" style="left:59px;top:438px;width:205px;height:44px;background:#9b69ff">大语言模型问答</div>
<div class="sub" style="left:61px;top:493px;width:88px;height:43px">上下文理解</div>
<div class="sub" style="left:162px;top:493px;width:88px;height:43px">归纳和生成</div>

<div class="btn" style="left:296px;top:438px;width:192px;height:44px;background:#a876ff">知识图谱</div>
<div class="sub" style="left:300px;top:493px;width:88px;height:43px">可解释事实</div>
<div class="sub" style="left:401px;top:493px;width:88px;height:43px;padding-right:2px">关联和推理</div>

<div class="btn" style="left:521px;top:438px;width:192px;height:45px;background:#0b45dd"><span style="font-size:12.4px;letter-spacing:-0.3px">BERT</span>阅读理解</div>
<div class="sub" style="left:524px;top:493px;width:88px;height:43px">抽取式问答</div>
<div class="sub" style="left:621px;top:493px;width:87px;height:43px">文本理解</div>

<div class="btn" style="left:738px;top:437px;width:179px;height:46px;background:#2386bd">信息检索</div>
<div class="sub" style="left:747px;top:496px;width:88px;height:43px">关键词匹配</div>
<div class="sub" style="left:840px;top:496px;width:77px;height:43px">可控性</div>

</body></html>
